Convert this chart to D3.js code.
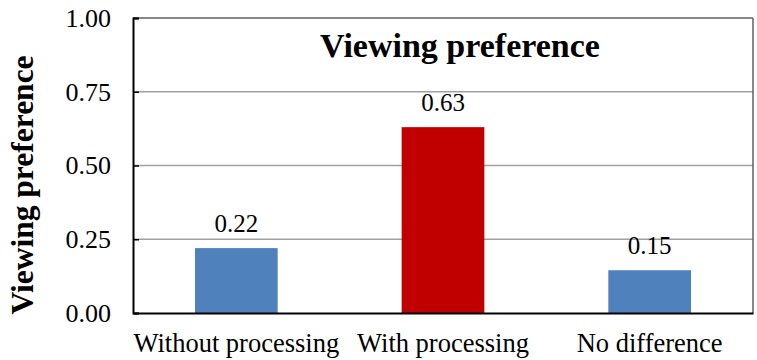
<!DOCTYPE html>
<html><head><meta charset="utf-8">
<script src="https://cdn.jsdelivr.net/npm/d3@7"></script>
<style>body{margin:0;background:#fff}svg{display:block}text{font-family:"Liberation Serif","Times New Roman",serif;fill:#000}</style>
</head><body>
<script>
const categories = ["Without processing", "With processing", "No difference"];
const values = [0.22, 0.63, 0.145];
const valueLabels = ["0.22", "0.63", "0.15"];
const barColors = ["#4F81BD", "#C00000", "#4F81BD"];
const yTicks = [0, 0.25, 0.5, 0.75, 1.0];
const chartTitle = "Viewing preference";
const yTitle = "Viewing preference";

const W = 757, H = 360;
const m = {left: 133, right: 4, top: 18, bottom: 47};
const svg = d3.select("body").append("svg").attr("width", W).attr("height", H);
const x = d3.scaleBand().domain(categories).range([m.left, W - m.right]).padding(0);
const y = d3.scaleLinear().domain([0, 1]).range([H - m.bottom, m.top]);

// gridlines
svg.append("g").selectAll("line").data(yTicks.filter(t => t > 0 && t < 1)).join("line")
  .attr("x1", m.left).attr("x2", W - m.right)
  .attr("y1", d => y(d)).attr("y2", d => y(d))
  .attr("stroke", "#a0a0a0").attr("stroke-width", 1.5);

// bars
const bw = x.bandwidth() * 0.4;
svg.append("g").selectAll("rect").data(categories).join("rect")
  .attr("x", d => x(d) + (x.bandwidth() - bw) / 2)
  .attr("width", bw)
  .attr("y", (d, i) => y(values[i]))
  .attr("height", (d, i) => y(0) - y(values[i]))
  .attr("fill", (d, i) => barColors[i]);

// value labels
svg.append("g").selectAll("text").data(categories).join("text")
  .attr("x", d => x(d) + x.bandwidth() / 2)
  .attr("y", (d, i) => y(values[i]) - 16)
  .attr("text-anchor", "middle").attr("font-size", 25)
  .text((d, i) => valueLabels[i]);

// frame top/right
svg.append("line").attr("x1", m.left).attr("x2", W - m.right).attr("y1", y(1)).attr("y2", y(1))
  .attr("stroke", "#606060").attr("stroke-width", 1.5);
svg.append("line").attr("x1", W - m.right).attr("x2", W - m.right).attr("y1", y(1)).attr("y2", y(0))
  .attr("stroke", "#606060").attr("stroke-width", 1.5);

// y axis
const ya = svg.append("g").attr("transform", `translate(${m.left},0)`)
  .call(d3.axisLeft(y).tickValues(yTicks).tickFormat(d3.format(".2f")).tickSize(-6).tickPadding(22));
ya.select(".domain").attr("stroke", "#000").attr("stroke-width", 2);
ya.selectAll(".tick line").attr("stroke", "#000").attr("stroke-width", 1.5);
ya.selectAll(".tick text").attr("font-size", 26).attr("fill", "#000");

// x axis
const xa = svg.append("g").attr("transform", `translate(0,${y(0)})`)
  .call(d3.axisBottom(x).tickSize(0).tickPadding(20));
xa.select(".domain").attr("stroke", "#000").attr("stroke-width", 2);
xa.selectAll(".tick text").attr("font-size", 26.5).attr("fill", "#000");

// title
svg.append("text").attr("x", 460).attr("y", 57).attr("text-anchor", "middle")
  .attr("font-size", 34).attr("font-weight", "bold").text(chartTitle);

// y title
svg.append("text").attr("transform", "translate(33,185) rotate(-90)")
  .attr("text-anchor", "middle").attr("font-size", 31.5).attr("font-weight", "bold").text(yTitle);
</script>
</body></html>
